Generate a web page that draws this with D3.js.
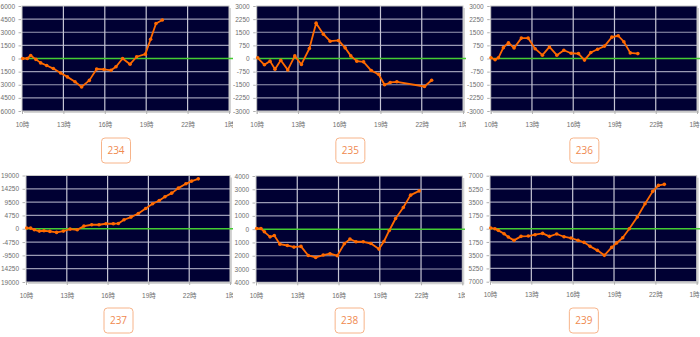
<!DOCTYPE html>
<html>
<head>
<meta charset="utf-8">
<script src="https://cdn.jsdelivr.net/npm/d3@7"></script>
<style>
  html, body { margin: 0; padding: 0; background: #ffffff; }
  svg { display: block; }
</style>
</head>
<body>
<svg id="chart" width="700" height="337"></svg>
<script>
// Hourly balance per machine (hours from 10時; 25 = 1時 next day)
const machines = ["234", "235", "236", "237", "238", "239"];

const hours234 = [10.05, 10.39, 10.63, 11.01, 11.35, 11.79, 12.27, 12.8, 13.29, 13.84, 14.32, 14.88, 15.41, 15.94, 16.45, 16.81, 17.29, 17.83, 18.31, 18.94, 19.32, 19.71, 20.17];
const values234 = [0, 0, 350, -100, -500, -800, -1150, -1650, -2100, -2650, -3250, -2500, -1200, -1250, -1350, -950, 0, -650, 200, 500, 2200, 4000, 4400];

const hours235 = [10.07, 10.56, 10.97, 11.33, 11.75, 12.26, 12.77, 13.25, 13.83, 14.32, 14.85, 15.34, 15.95, 16.43, 16.84, 17.28, 17.77, 18.33, 18.86, 19.3, 19.71, 20.19, 22.2, 22.72];
const values235 = [40, -360, -150, -610, -100, -650, 150, -340, 570, 2020, 1390, 990, 1030, 610, 150, -150, -190, -690, -900, -1500, -1370, -1330, -1600, -1240];

const hours236 = [10.02, 10.32, 10.56, 10.92, 11.29, 11.7, 12.23, 12.72, 13.23, 13.76, 14.27, 14.81, 15.32, 15.85, 16.38, 16.82, 17.28, 17.77, 18.28, 18.81, 19.27, 19.68, 20.15, 20.7];
const values236 = [40, -75, 40, 620, 900, 600, 1165, 1165, 560, 190, 660, 190, 470, 300, 280, -90, 340, 530, 710, 1220, 1300, 960, 320, 280];

const hours237 = [10.05, 10.34, 10.61, 10.98, 11.32, 11.76, 12.25, 12.75, 13.24, 13.77, 14.26, 14.83, 15.37, 15.88, 16.42, 16.79, 17.21, 17.72, 18.26, 18.8, 19.31, 19.8, 20.22, 20.71, 21.2, 21.76, 22.18, 22.67];
const values237 = [240, 240, -360, -830, -710, -950, -1300, -830, -120, -360, 950, 1425, 1425, 1780, 1780, 1900, 3200, 4150, 5460, 7240, 8900, 10100, 11400, 12700, 14490, 16030, 17000, 17800];

const hours238 = [10.05, 10.36, 10.61, 11.02, 11.33, 11.74, 12.28, 12.76, 13.27, 13.8, 14.34, 14.89, 15.38, 15.91, 16.42, 16.83, 17.27, 17.8, 18.36, 18.94, 19.3, 19.69, 20.15, 20.71, 21.24, 21.87];
const values238 = [50, 50, -200, -580, -480, -1130, -1230, -1350, -1300, -1980, -2130, -1950, -1850, -2000, -1100, -750, -950, -950, -1080, -1500, -930, -100, 800, 1630, 2560, 2880];

const hours239 = [10.05, 10.36, 10.6, 11.02, 11.33, 11.74, 12.25, 12.78, 13.27, 13.82, 14.31, 14.84, 15.37, 15.88, 16.39, 16.82, 17.26, 17.79, 18.3, 18.83, 19.19, 19.63, 20.11, 20.69, 21.25, 21.81, 22.22, 22.65];
const values239 = [90, 0, -220, -660, -1100, -1540, -1010, -970, -790, -620, -1010, -700, -1060, -1230, -1540, -1800, -2330, -2860, -3520, -2470, -1890, -1190, 0, 1540, 3300, 4930, 5720, 5860];

// Value axis ticks per machine, top to bottom, with the labels printed beside them
const yTicks234 = [6000, 4500, 3000, 1500, 0, -1500, -3000, -4500, -6000];
const yLabels234 = ["6000", "4500", "3000", "1500", "0", "1500", "3000", "4500", "6000"];
const yTicks235 = [3000, 2250, 1500, 750, 0, -750, -1500, -2250, -3000];
const yLabels235 = ["3000", "2250", "1500", "750", "0", "-750", "-1500", "-2250", "-3000"];
const yTicks236 = [3000, 2250, 1500, 750, 0, -750, -1500, -2250, -3000];
const yLabels236 = ["3000", "2250", "1500", "750", "0", "-750", "-1500", "-2250", "-3000"];
const yTicks237 = [19000, 14250, 9500, 4750, 0, -4750, -9500, -14250, -19000];
const yLabels237 = ["19000", "14250", "9500", "4750", "0", "-4750", "-9500", "14250", "19000"];
const yTicks238 = [4000, 3000, 2000, 1000, 0, -1000, -2000, -3000, -4000];
const yLabels238 = ["4000", "3000", "2000", "1000", "0", "1000", "2000", "3000", "4000"];
const yTicks239 = [7000, 5250, 3500, 1750, 0, -1750, -3500, -5250, -7000];
const yLabels239 = ["7000", "5250", "3500", "1750", "0", "1750", "3500", "5250", "7000"];

// Time axis
const xTickHours = [10, 13, 16, 19, 22, 25];
const xTickLabels = ["10時", "13時", "16時", "19時", "22時", "1時"];

const series = [
  { hours: hours234, values: values234, ticks: yTicks234, labels: yLabels234 },
  { hours: hours235, values: values235, ticks: yTicks235, labels: yLabels235 },
  { hours: hours236, values: values236, ticks: yTicks236, labels: yLabels236 },
  { hours: hours237, values: values237, ticks: yTicks237, labels: yLabels237 },
  { hours: hours238, values: values238, ticks: yTicks238, labels: yLabels238 },
  { hours: hours239, values: values239, ticks: yTicks239, labels: yLabels239 }
];

// Panel frames: plot box edges and the visible strip of each panel
const frames = [
  { left: 22,    right: 229,   top: 6,     bottom: 111,   clip0: 0,   clip1: 233, labelY: 150.5 },
  { left: 256.7, right: 463,   top: 6,     bottom: 111,   clip0: 233, clip1: 466, labelY: 150.5 },
  { left: 490.7, right: 697,   top: 6,     bottom: 111,   clip0: 466, clip1: 700, labelY: 150.5 },
  { left: 26,    right: 230,   top: 175.5, bottom: 282,   clip0: 0,   clip1: 233, labelY: 320.5 },
  { left: 256,   right: 462.3, top: 176,   bottom: 282.3, clip0: 233, clip1: 465, labelY: 320.5 },
  { left: 490,   right: 696.7, top: 175.7, bottom: 281.7, clip0: 465, clip1: 700, labelY: 320.5 }
];

const svg = d3.select("#chart");
const defs = svg.append("defs");
const axisFont = "'Liberation Sans', 'Noto Sans CJK JP', sans-serif";

series.forEach((s, i) => {
  const f = frames[i];
  const clipId = "clip" + i;
  defs.append("clipPath").attr("id", clipId)
    .append("rect").attr("x", f.clip0).attr("y", 0)
    .attr("width", f.clip1 - f.clip0).attr("height", 337);

  const g = svg.append("g").attr("clip-path", `url(#${clipId})`);

  const x = d3.scaleLinear().domain([10, 25]).range([f.left, f.right]);
  const yMax = d3.max(s.ticks);
  const y = d3.scaleLinear().domain([-yMax, yMax]).range([f.bottom, f.top]);

  // drop shadow of the plot box
  g.append("rect")
    .attr("x", f.left + 2).attr("y", f.top + 2)
    .attr("width", f.right - f.left).attr("height", f.bottom - f.top)
    .attr("fill", "#d4d4d4");

  // plot background
  g.append("rect")
    .attr("x", f.left).attr("y", f.top)
    .attr("width", f.right - f.left).attr("height", f.bottom - f.top)
    .attr("fill", "#000033");

  // horizontal grid
  g.append("g").selectAll("line").data(s.ticks.filter(t => t !== 0 && Math.abs(t) !== yMax))
    .join("line")
    .attr("x1", f.left).attr("x2", f.right)
    .attr("y1", d => y(d)).attr("y2", d => y(d))
    .attr("stroke", "#9a9ab4").attr("stroke-width", 1.2);

  // vertical grid
  g.append("g").selectAll("line").data(xTickHours.slice(1, -1))
    .join("line")
    .attr("x1", d => x(d)).attr("x2", d => x(d))
    .attr("y1", f.top).attr("y2", f.bottom)
    .attr("stroke", "#c4c4d4").attr("stroke-width", 1.2);

  // plot border
  g.append("rect")
    .attr("x", f.left).attr("y", f.top)
    .attr("width", f.right - f.left).attr("height", f.bottom - f.top)
    .attr("fill", "none").attr("stroke", "#c8c8c8").attr("stroke-width", 1);

  // zero line
  g.append("line")
    .attr("x1", f.left).attr("x2", f.right + 4)
    .attr("y1", y(0)).attr("y2", y(0))
    .attr("stroke", "#44cc33").attr("stroke-width", 1.5);

  // value axis
  const yAxis = d3.axisLeft(y).tickValues(s.ticks)
    .tickFormat((d, k) => s.labels[k])
    .tickSize(2.5).tickPadding(3.5);
  const ya = g.append("g").attr("transform", `translate(${f.left - 1},0)`).call(yAxis);
  ya.select(".domain").remove();
  ya.selectAll(".tick line").attr("stroke", "#b0b0b0");
  ya.selectAll(".tick text").attr("fill", "#6e6e6e")
    .attr("font-family", axisFont).attr("font-size", 6.5);

  // time axis
  const xAxis = d3.axisBottom(x).tickValues(xTickHours)
    .tickFormat((d, k) => xTickLabels[k]).tickSize(3).tickPadding(8);
  const xa = g.append("g").attr("transform", `translate(0,${f.bottom})`).call(xAxis);
  xa.select(".domain").attr("stroke", "#c8c8c8");
  xa.selectAll(".tick line").attr("stroke", "#b0b0b0");
  xa.selectAll(".tick text").attr("fill", "#6e6e6e")
    .attr("font-family", axisFont).attr("font-size", 6.5);
  // keep the last time label inside the page on the rightmost panels
  if (f.clip1 >= 700) {
    xa.selectAll(".tick text").filter((d, k) => k === xTickHours.length - 1)
      .attr("text-anchor", "end").attr("x", 699 - x(25));
  }

  // balance line
  const pts = s.hours.map((h, k) => [h, s.values[k]]);
  g.append("path").datum(pts)
    .attr("fill", "none").attr("stroke", "#ff6a00").attr("stroke-width", 1.8)
    .attr("stroke-linejoin", "round")
    .attr("d", d3.line().x(d => x(d[0])).y(d => y(d[1])));
  g.append("g").selectAll("circle").data(pts).join("circle")
    .attr("cx", d => x(d[0])).attr("cy", d => y(d[1])).attr("r", 1.8)
    .attr("fill", "#ff6a00");

  // machine number badge
  const cx = (f.left + f.right) / 2 - 9.5;
  const bw = 29, bh = 25;
  svg.append("rect")
    .attr("x", cx - bw / 2).attr("y", f.labelY - bh / 2)
    .attr("width", bw).attr("height", bh).attr("rx", 3.5)
    .attr("fill", "#ffffff").attr("stroke", "#f7b48a").attr("stroke-width", 1);
  svg.append("text")
    .attr("x", cx).attr("y", f.labelY + 3.6)
    .attr("text-anchor", "middle")
    .attr("font-family", "'Open Sans', 'Noto Sans', sans-serif")
    .attr("font-size", 10).attr("fill", "#f08a50")
    .text(machines[i]);
});
</script>
</body>
</html>
